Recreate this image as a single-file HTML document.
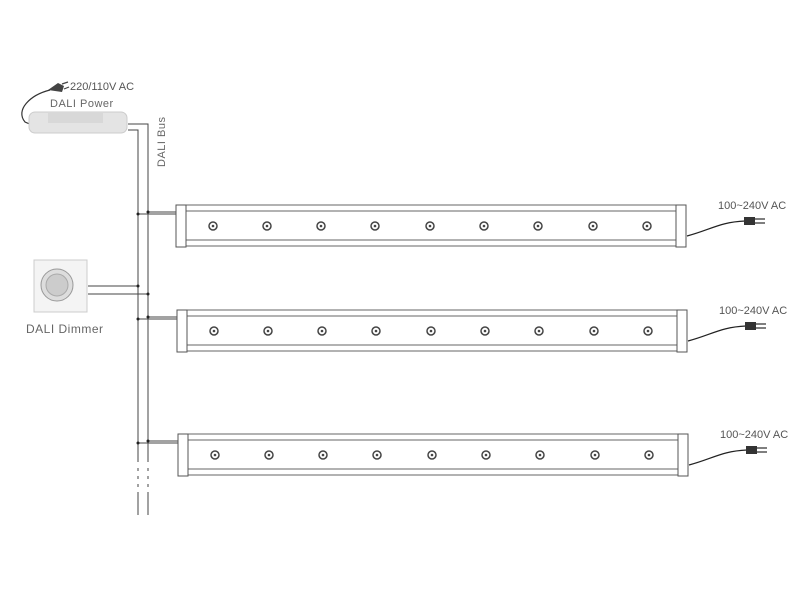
<!DOCTYPE html>
<html><head><style>body{margin:0;background:#fff}svg{display:block}</style></head><body>
<svg width="800" height="600" viewBox="0 0 800 600" font-family="Liberation Sans, sans-serif" fill="none" stroke="#555">
<!-- power -->
<text x="70" y="90" font-size="11" fill="#555" stroke="none">220/110V AC</text>
<text x="50" y="107" font-size="11" fill="#666" stroke="none" letter-spacing="0.5">DALI Power</text>
<path d="M48 90 L58 83 L64 86 L62 92 Z" fill="#444" stroke="none"/>
<path d="M62 84 L68 82 M64 89 L69 87" stroke="#444" stroke-width="1.2"/>
<path d="M50 90 C30 95,15 110,25 122 L32 125" stroke="#333" stroke-width="1.2"/>
<rect x="29" y="112" width="98" height="21" rx="6" fill="#e4e4e4" stroke="#ccc"/>
<rect x="48" y="113" width="55" height="10" fill="#d8d8d8" stroke="none"/>
<text x="138" y="140" font-size="11" fill="#666" stroke="none" transform="rotate(-90 165 140)" letter-spacing="0.5">DALI Bus</text>
<g stroke="#444" stroke-width="1">
<path d="M128 124 H148 V462 M148 492 V515"/>
<path d="M128 130 H138 V462 M138 492 V515"/>
<path d="M138 468v3M138 476v3M138 484v3M148 468v3M148 476v3M148 484v3"/>
<path d="M88 286 H138 M88 294 H148"/>
<path d="M138 214 H176 M148 212 H176"/>
<path d="M138 319 H177 M148 317 H177"/>
<path d="M138 443 H178 M148 441 H178"/>
</g>
<g fill="#222" stroke="none">
<circle cx="138" cy="214" r="1.5"/><circle cx="148" cy="212" r="1.5"/>
<circle cx="138" cy="286" r="1.5"/><circle cx="148" cy="294" r="1.5"/>
<circle cx="138" cy="319" r="1.5"/><circle cx="148" cy="317" r="1.5"/>
<circle cx="138" cy="443" r="1.5"/><circle cx="148" cy="441" r="1.5"/>
</g>
<!-- dimmer -->
<rect x="34" y="260" width="53" height="52" fill="#f4f4f4" stroke="#ccc"/>
<circle cx="57" cy="285" r="16" fill="#ddd" stroke="#999"/>
<circle cx="57" cy="285" r="11" fill="#ccc" stroke="#aaa"/>
<text x="26" y="333" font-size="12" fill="#666" stroke="none" letter-spacing="0.5">DALI Dimmer</text>
<!-- bars -->
<g id="bar">
<rect x="176" y="205" width="511" height="42" stroke="none" fill="#fff"/>
<path d="M186 205 H676 M186 211 H676 M186 240 H676 M186 246 H676" stroke="#666"/>
<rect x="176" y="205" width="10" height="42" fill="#fff" stroke="#555"/>
<rect x="676" y="205" width="10" height="42" fill="#fff" stroke="#555"/>
<g stroke="#444" stroke-width="1.5">
<circle cx="213" cy="226" r="4"/><circle cx="267" cy="226" r="4"/><circle cx="321" cy="226" r="4"/><circle cx="375" cy="226" r="4"/><circle cx="430" cy="226" r="4"/><circle cx="484" cy="226" r="4"/><circle cx="538" cy="226" r="4"/><circle cx="593" cy="226" r="4"/><circle cx="647" cy="226" r="4"/>
</g>
<g fill="#444" stroke="none">
<circle cx="213" cy="226" r="1.3"/><circle cx="267" cy="226" r="1.3"/><circle cx="321" cy="226" r="1.3"/><circle cx="375" cy="226" r="1.3"/><circle cx="430" cy="226" r="1.3"/><circle cx="484" cy="226" r="1.3"/><circle cx="538" cy="226" r="1.3"/><circle cx="593" cy="226" r="1.3"/><circle cx="647" cy="226" r="1.3"/>
</g>
<path d="M687 236 C710 230,720 222,745 221" stroke="#222" stroke-width="1.2"/>
<path d="M744 217 L755 217 L755 225 L744 225 Z" fill="#333" stroke="none"/>
<path d="M755 219 H765 M755 223 H765" stroke="#333" stroke-width="1.3"/>
<text x="718" y="209" font-size="11" fill="#555" stroke="none">100~240V AC</text>
</g>
<use href="#bar" x="1" y="105"/>
<use href="#bar" x="2" y="229"/>
</svg>
</body></html>
